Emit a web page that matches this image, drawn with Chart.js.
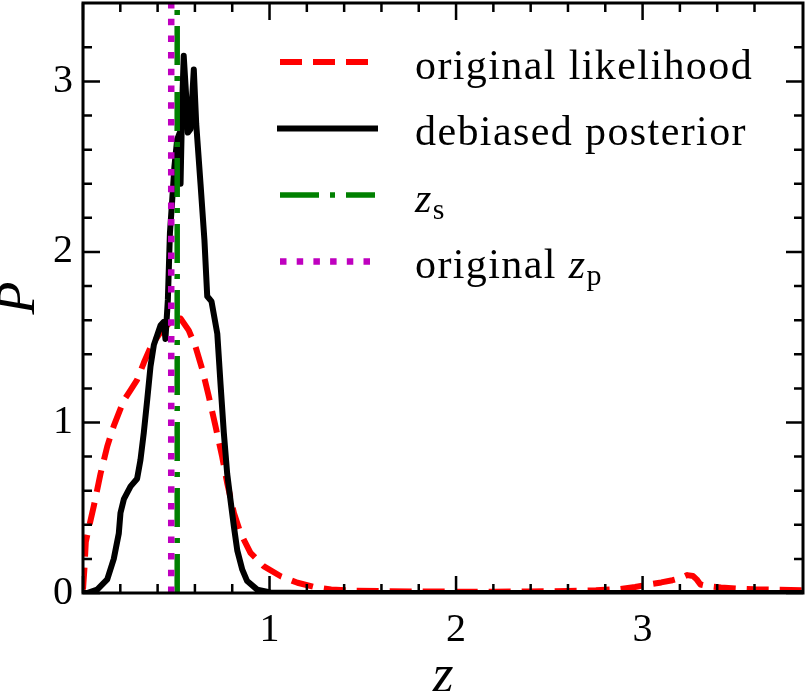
<!DOCTYPE html>
<html><head><meta charset="utf-8">
<script src="https://cdn.jsdelivr.net/npm/chart.js@4/dist/chart.umd.min.js"></script>
<style>html,body{margin:0;padding:0;background:#fff}#wrap{width:805px;height:691px;position:relative}</style>
</head><body><div id="wrap"><canvas id="c"></canvas></div>
<script>
// ---- data ----
const likeZ = [0,0.008,0.015,0.035,0.058,0.094,0.13,0.165,0.219,0.255,0.29,0.326,0.362,0.416,0.469,0.523,0.567,0.603,0.64,0.675,0.71,0.746,0.773,0.809,0.845,0.898,0.97,1.06,1.15,1.24,1.33,1.45,1.6,1.8,2.0,2.2,2.4,2.6,2.75,2.88,2.96,3.03,3.1,3.16,3.21,3.24,3.27,3.29,3.31,3.35,3.42,3.5,3.6,3.7,3.86];
const likeP = [0.02,0.15,0.3,0.4,0.51,0.70,0.86,0.98,1.13,1.19,1.25,1.35,1.44,1.53,1.59,1.61,1.54,1.445,1.31,1.15,0.98,0.80,0.645,0.47,0.35,0.235,0.156,0.098,0.06,0.035,0.02,0.014,0.011,0.009,0.008,0.008,0.009,0.012,0.016,0.024,0.035,0.05,0.062,0.075,0.09,0.105,0.1,0.08,0.05,0.04,0.032,0.027,0.022,0.02,0.016];
const postZ = [0,0.022,0.076,0.13,0.165,0.192,0.201,0.219,0.255,0.29,0.308,0.326,0.344,0.362,0.38,0.416,0.433,0.442,0.455,0.466,0.478,0.49,0.505,0.519,0.523,0.532,0.54,0.555,0.562,0.576,0.594,0.607,0.63,0.651,0.666,0.689,0.72,0.737,0.755,0.773,0.79,0.809,0.827,0.854,0.88,0.934,1.005,1.2,1.6,2.2,3.0,3.86];
const postP = [0,0.0,0.02,0.08,0.2,0.35,0.47,0.55,0.625,0.67,0.78,0.94,1.13,1.33,1.455,1.57,1.59,1.49,1.72,2.11,2.30,2.50,2.66,2.70,2.40,2.88,3.15,2.88,2.70,2.72,3.07,2.75,2.40,2.07,1.74,1.71,1.52,1.23,0.94,0.70,0.55,0.39,0.25,0.137,0.07,0.02,0.003,0,0,0,0,0];
const zSpec = [0.505];
const zPhotOrig = [0.473];
const xRange = [0, 3.86];
const yRange = [0, 3.46];
const xMajor = [1, 2, 3];
const yMajor = [0, 1, 2, 3];
const legendLabels = ['original likelihood', 'debiased posterior', 'z_s', 'original z_p'];

const pts = (xs, ys) => xs.map((x, i) => ({x, y: ys[i]}));
const vline = (v) => [{x: v, y: yRange[0]}, {x: v, y: yRange[1]}];
const isMult = (v, s) => Math.abs(v / s - Math.round(v / s)) < 1e-6;

const SERIF = '"Liberation Serif", "DejaVu Serif", serif';

const decor = {
  id: 'decor',
  afterDatasetsDraw(chart) {
    const {ctx, chartArea: a, scales: {x, y}} = chart;
    ctx.save();
    ctx.strokeStyle = '#000';
    ctx.lineWidth = 2.5;
    ctx.lineCap = 'butt';
    ctx.beginPath();
    x.ticks.forEach(t => {
      if (!isMult(t.value, 0.2)) return;
      const px = x.getPixelForValue(t.value);
      const L = isMult(t.value, 1) ? 17 : 9;
      ctx.moveTo(px, a.bottom); ctx.lineTo(px, a.bottom - L);
      ctx.moveTo(px, a.top); ctx.lineTo(px, a.top + L);
    });
    y.ticks.forEach(t => {
      if (!isMult(t.value, 0.2)) return;
      const py = y.getPixelForValue(t.value);
      const L = isMult(t.value, 1) ? 17 : 9;
      ctx.moveTo(a.left, py); ctx.lineTo(a.left + L, py);
      ctx.moveTo(a.right, py); ctx.lineTo(a.right - L, py);
    });
    ctx.stroke();
    ctx.lineWidth = 3;
    ctx.strokeRect(a.left, a.top, a.right - a.left, a.bottom - a.top);

    // legend
    const ds = chart.data.datasets;
    const rows = [62, 128.5, 195, 261.5];
    const x0 = 280, x1 = 375, tx = 415;
    ds.forEach((d, i) => {
      const yy = rows[i];
      ctx.save();
      ctx.strokeStyle = d.borderColor;
      ctx.lineWidth = d.borderWidth;
      ctx.setLineDash(d.borderDash || []);
      ctx.lineCap = (d.borderDash && d.borderDash.length) ? 'butt' : 'square';
      ctx.beginPath();
      ctx.moveTo(x0, yy); ctx.lineTo(x1, yy);
      ctx.stroke();
      ctx.restore();
      ctx.save();
      ctx.fillStyle = '#000';
      ctx.textBaseline = 'alphabetic';
      ctx.textAlign = 'left';
      try { ctx.letterSpacing = '1.4px'; } catch (e) {}
      const base = yy + 16.5;
      const lab = legendLabels[i];
      const m = lab.match(/^(.*?)z_(\w)$/);
      if (m) {
        let cx = tx;
        ctx.font = '42px ' + SERIF;
        if (m[1]) { ctx.fillText(m[1], cx, base); cx += ctx.measureText(m[1]).width; }
        ctx.font = 'italic 42px ' + SERIF;
        ctx.fillText('z', cx, base); cx += ctx.measureText('z').width;
        ctx.font = '30px ' + SERIF;
        ctx.fillText(m[2], cx, base + 7);
      } else {
        ctx.font = '42px ' + SERIF;
        ctx.fillText(lab, tx, base);
      }
      ctx.restore();
    });
    ctx.restore();
  }
};

const noPad = (s) => { s.paddingTop = 0; s.paddingBottom = 0; s.paddingLeft = 0; s.paddingRight = 0; };

new Chart(document.getElementById('c'), {
  type: 'line',
  data: {
    datasets: [
      {label: legendLabels[0], data: pts(likeZ, likeP), borderColor: '#ff0000', borderWidth: 6, borderDash: [22, 11], order: 3},
      {label: legendLabels[1], data: pts(postZ, postP), borderColor: '#000000', borderWidth: 6, order: 2},
      {label: legendLabels[2], data: vline(zSpec[0]), borderColor: '#008000', borderWidth: 5.5, borderDash: [39, 11, 5, 11], order: 1},
      {label: legendLabels[3], data: vline(zPhotOrig[0]), borderColor: '#bf00bf', borderWidth: 6.5, borderDash: [6.5, 10.2], order: 0}
    ]
  },
  options: {
    responsive: true,
    maintainAspectRatio: false,
    animation: false,
    devicePixelRatio: 1,
    layout: {padding: {top: 3, right: 2, left: 0, bottom: 0}},
    elements: {point: {radius: 0}, line: {tension: 0, borderJoinStyle: 'round', fill: false}},
    plugins: {legend: {display: false}, tooltip: {enabled: false}},
    scales: {
      x: {
        type: 'linear', min: xRange[0], max: xRange[1],
        grid: {display: false, drawTicks: false},
        border: {display: false},
        ticks: {
          stepSize: 0.2, autoSkip: false, maxRotation: 0, padding: 13,
          color: '#000', font: {family: SERIF, size: 40},
          callback: (v) => (isMult(v, 1) && xMajor.includes(Math.round(v))) ? String(Math.round(v)) : ''
        },
        title: {display: true, text: 'z', color: '#000', font: {family: SERIF, size: 54, style: 'italic', lineHeight: 0.5}, padding: 0},
        afterFit: (s) => { s.height = 98; noPad(s); }
      },
      y: {
        type: 'linear', min: yRange[0], max: yRange[1],
        grid: {display: false, drawTicks: false},
        border: {display: false},
        ticks: {
          stepSize: 0.2, autoSkip: false, padding: 10,
          color: '#000', font: {family: SERIF, size: 40},
          callback: (v) => (isMult(v, 1) && yMajor.includes(Math.round(v))) ? String(Math.round(v)) : ''
        },
        title: {display: true, text: 'P', color: '#000', font: {family: SERIF, size: 54, style: 'italic', lineHeight: 0.72}, padding: 0},
        afterFit: (s) => { s.width = 83; noPad(s); }
      }
    }
  },
  plugins: [decor]
});
</script></body></html>
